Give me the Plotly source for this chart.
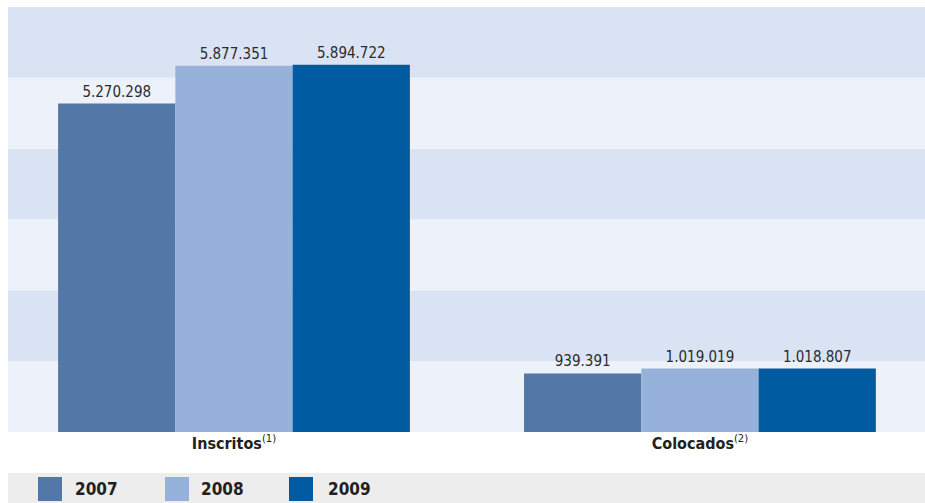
import plotly.graph_objects as go

categories = ["Inscritos", "Colocados"]
footnotes = ["(1)", "(2)"]
years = ["2007", "2008", "2009"]
values_2007 = [5270298, 939391]
values_2008 = [5877351, 1019019]
values_2009 = [5894722, 1018807]
series = [values_2007, values_2008, values_2009]
colors = ["#5377a6", "#96b1da", "#005ba1"]

W, H = 925, 503
L, R, T, B = 8, 0, 7, 503 - 432
pw, ph = W - L - R, H - T - B

def px_x(x):  # page pixel -> paper
    return (x - L) / pw

def px_y(y):
    return (H - B - y) / ph

FONT = "DejaVu Sans Condensed, Liberation Sans Narrow, Arial Narrow, sans-serif"

fig = go.Figure()
for yr, vals, col in zip(years, series, colors):
    fig.add_trace(go.Bar(
        x=categories, y=vals, name=yr, marker=dict(color=col, line=dict(width=0)),
        texttemplate="%{y:,}", textposition="outside", cliponaxis=False,
        textfont=dict(family=FONT, size=15, color="#2b2b2b"),
        showlegend=False, hoverinfo="skip",
    ))

shapes = []
band_dark, band_light = "#dae3f3", "#edf2fa"
for i in range(6):
    shapes.append(dict(type="rect", xref="paper", yref="paper", x0=0, x1=1,
                       y0=i / 6, y1=(i + 1) / 6, layer="below", line=dict(width=0),
                       fillcolor=band_light if i % 2 == 0 else band_dark))
# legend background strip
shapes.append(dict(type="rect", xref="paper", yref="paper", x0=0, x1=1,
                   y0=px_y(503), y1=px_y(473), line=dict(width=0), fillcolor="#ededed"))
annotations = []
sq_x = [38, 165, 289]
txt_x = [73, 199, 326]
for yr, col, sx, tx in zip(years, colors, sq_x, txt_x):
    shapes.append(dict(type="rect", xref="paper", yref="paper", x0=px_x(sx), x1=px_x(sx + 24),
                       y0=px_y(501), y1=px_y(477), line=dict(width=0), fillcolor=col))
    annotations.append(dict(xref="paper", yref="paper", x=px_x(tx), y=px_y(489),
                            xanchor="left", yanchor="middle", showarrow=False,
                            text="<b>" + yr + "</b>",
                            font=dict(family=FONT, size=17, color="#231f20")))

ticktext = ["<b>%s</b><sup>%s</sup>" % (c, f) for c, f in zip(categories, footnotes)]

fig.update_layout(
    width=W, height=H, margin=dict(l=L, r=R, t=T, b=B),
    paper_bgcolor="white", plot_bgcolor="white",
    barmode="group", bargap=0.245, bargroupgap=0,
    separators=",.",
    shapes=shapes, annotations=annotations,
    xaxis=dict(range=[-0.485, 1.483], tickvals=categories, ticktext=ticktext,
               showgrid=False, zeroline=False, ticks="", showline=False,
               tickfont=dict(family=FONT, size=16, color="#231f20")),
    yaxis=dict(range=[0, 6.82e6], showgrid=False, zeroline=False,
               showticklabels=False, ticks="", showline=False),
)

fig.write_html("out.html", config={"displayModeBar": False},
               post_script="document.body.style.margin='0';document.body.style.overflow='hidden';")
